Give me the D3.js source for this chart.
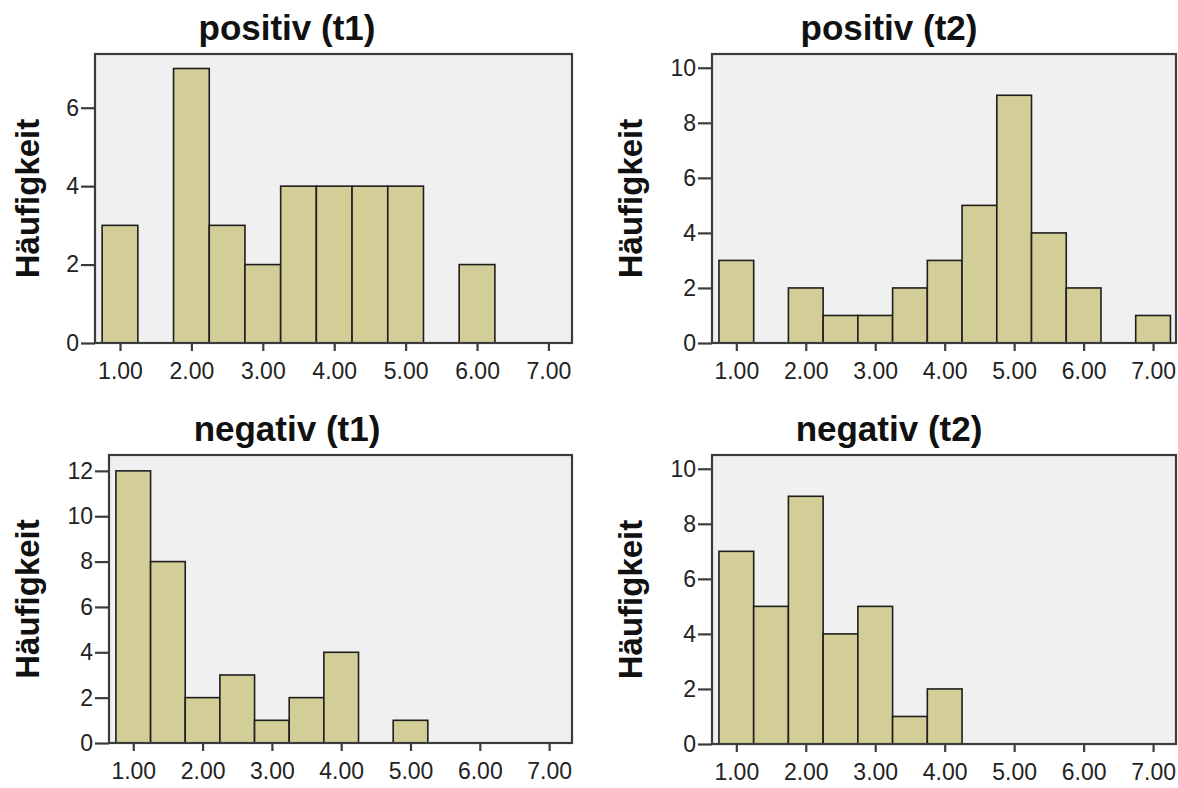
<!DOCTYPE html>
<html>
<head>
<meta charset="utf-8">
<script src="https://cdn.jsdelivr.net/npm/d3@7"></script>
<style>
  html, body { margin: 0; padding: 0; background: #ffffff; }
  svg { display: block; }
</style>
</head>
<body>
<svg id="chart" width="1178" height="788"></svg>
<script>
// ---- Data ----
const binCenters = [1.0, 1.5, 2.0, 2.5, 3.0, 3.5, 4.0, 4.5, 5.0, 5.5, 6.0, 6.5, 7.0];
const positivT1 = [3, 0, 7, 3, 2, 4, 4, 4, 4, 0, 2, 0, 0];
const positivT2 = [3, 0, 2, 1, 1, 2, 3, 5, 9, 4, 2, 0, 1];
const negativT1 = [12, 8, 2, 3, 1, 2, 4, 0, 1, 0, 0, 0, 0];
const negativT2 = [7, 5, 9, 4, 5, 1, 2, 0, 0, 0, 0, 0, 0];
const xTickValues = [1, 2, 3, 4, 5, 6, 7];
const yTicksPositivT1 = [0, 2, 4, 6];
const yTicksPositivT2 = [0, 2, 4, 6, 8, 10];
const yTicksNegativT1 = [0, 2, 4, 6, 8, 10, 12];
const yTicksNegativT2 = [0, 2, 4, 6, 8, 10];
const titles = ["positiv (t1)", "positiv (t2)", "negativ (t1)", "negativ (t2)"];
const yAxisLabel = "Häufigkeit";
const binWidth = 0.5;

// ---- Layout ----
const panels = [
  { title: titles[0], values: positivT1, yTicks: yTicksPositivT1, yMax: 7.37,
    x0: 95, x1: 572, y0: 54, y1: 343, cx: 287, titleY: 40 },
  { title: titles[1], values: positivT2, yTicks: yTicksPositivT2, yMax: 10.5,
    x0: 712, x1: 1176, y0: 54, y1: 343, cx: 889, titleY: 40 },
  { title: titles[2], values: negativT1, yTicks: yTicksNegativT1, yMax: 12.7,
    x0: 109, x1: 572, y0: 455, y1: 743, cx: 287, titleY: 441 },
  { title: titles[3], values: negativT2, yTicks: yTicksNegativT2, yMax: 10.5,
    x0: 712, x1: 1176, y0: 455, y1: 744, cx: 889, titleY: 441 }
];
const labelX = [27, 630, 27, 630];

const svg = d3.select("#chart");
const FONT = "'Liberation Sans', Arial, sans-serif";
const barFill = "#d3ce97";
const frameColor = "#3c3c3c";

panels.forEach((p, i) => {
  const x = d3.scaleLinear().domain([0.65, 7.33]).range([p.x0, p.x1]);
  const y = d3.scaleLinear().domain([0, p.yMax]).range([p.y1, p.y0]);
  const g = svg.append("g");

  // plot background
  g.append("rect")
    .attr("x", p.x0).attr("y", p.y0)
    .attr("width", p.x1 - p.x0).attr("height", p.y1 - p.y0)
    .attr("fill", "#f0f0f0");

  // bars
  const data = binCenters.map((c, k) => ({ c, v: p.values[k] })).filter(d => d.v > 0);
  g.selectAll("rect.bar").data(data).enter().append("rect")
    .attr("class", "bar")
    .attr("x", d => x(d.c - binWidth / 2))
    .attr("y", d => y(d.v))
    .attr("width", d => x(d.c + binWidth / 2) - x(d.c - binWidth / 2))
    .attr("height", d => y(0) - y(d.v))
    .attr("fill", barFill)
    .attr("stroke", "#1e1e1e")
    .attr("stroke-width", 1.6);

  // frame
  g.append("rect")
    .attr("x", p.x0).attr("y", p.y0)
    .attr("width", p.x1 - p.x0).attr("height", p.y1 - p.y0)
    .attr("fill", "none")
    .attr("stroke", frameColor)
    .attr("stroke-width", 2.2);

  // y axis
  const yAxis = d3.axisLeft(y).tickValues(p.yTicks).tickSize(14).tickPadding(2)
    .tickFormat(d3.format("d"));
  const ya = g.append("g").attr("transform", `translate(${p.x0},0)`).call(yAxis);
  ya.select(".domain").remove();
  ya.selectAll(".tick line").attr("stroke", frameColor).attr("stroke-width", 2.2);
  ya.selectAll(".tick text").attr("font-family", FONT).attr("font-size", 23)
    .attr("fill", "#222");

  // x axis
  const xAxis = d3.axisBottom(x).tickValues(xTickValues).tickSize(8).tickPadding(12)
    .tickFormat(d3.format(".2f"));
  const xa = g.append("g").attr("transform", `translate(0,${p.y1})`).call(xAxis);
  xa.select(".domain").remove();
  xa.selectAll(".tick line").attr("stroke", frameColor).attr("stroke-width", 2.2);
  xa.selectAll(".tick text").attr("font-family", FONT).attr("font-size", 23)
    .attr("fill", "#222");

  // title
  svg.append("text")
    .attr("x", p.cx).attr("y", p.titleY)
    .attr("text-anchor", "middle")
    .attr("font-family", FONT).attr("font-weight", "bold").attr("font-size", 35)
    .attr("fill", "#111")
    .text(p.title);

  // y label
  const ly = (p.y0 + p.y1) / 2;
  svg.append("text")
    .attr("transform", `translate(${labelX[i] + 12},${ly}) rotate(-90)`)
    .attr("text-anchor", "middle")
    .attr("font-family", FONT).attr("font-weight", "bold").attr("font-size", 33)
    .attr("fill", "#111")
    .text(yAxisLabel);
});
</script>
</body>
</html>
